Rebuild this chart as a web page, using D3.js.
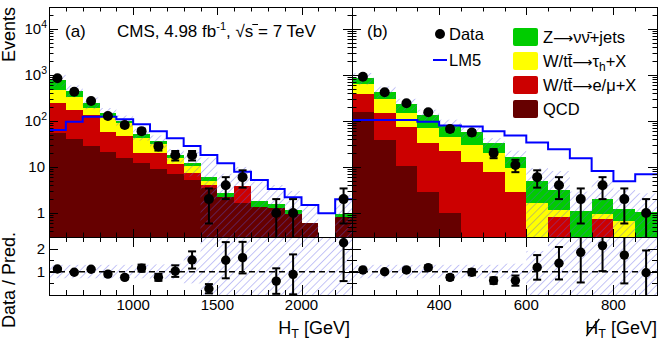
<!DOCTYPE html>
<html>
<head>
<meta charset="utf-8">
<script src="https://cdn.jsdelivr.net/npm/d3@7"></script>
<style>
  body { margin: 0; background: #fff; }
  text { font-family: "Liberation Sans", Arial, Helvetica, sans-serif; }
</style>
</head>
<body>
<svg id="chart" width="664" height="347"></svg>
<script>
// ---- data ----
// (a) HT, 100 GeV bins, low edges
const htLow = [500, 600, 700, 800, 900, 1000, 1100, 1200, 1300, 1400, 1500, 1600, 1700, 1800, 1900, 2000, 2100, 2200];
const htQCD = [56, 40.5, 29, 21.5, 15.4, 12, 8.9, 7.0, 5.2, 3.4, 2.19, 1.67, 1.37, 1.26, 0.95, 0.6, 0, 0.8];
const htLep = [186, 132.5, 106, 36.5, 31.6, 8.4, 10.9, 4.6, 2.1, 0.65, 0, 2.18, 0, 0, 0, 0, 0, 0];
const htTau = [229, 153, 53, 62, 42, 21.6, 11.7, 3.8, 3.2, 0.95, 0, 0, 0, 0, 0, 0, 0, 0];
const htZnn = [305, 129, 61, 27, 12, 10, 5.1, 2.8, 1.9, 1.15, 0.56, 0, 0.48, 0.30, 0.21, 0, 0, 0.15];
const htLM5 = [63.5, 96, 124, 124, 109, 84.5, 60, 42, 28.5, 18.2, 12, 7.9, 5.2, 3.3, 2.19, 1.49, 0.98, 1.98];
const htData = [844, 432, 271, 128, 82, 60, 28, 18, 18, 2, 4, 6, 0, 1, 1, 0, 0, 2];
const htDataErr = [29, 20.8, 16.5, 11.3, 9.1, 7.7, 5.3, 4.2, 4.2, 1.41, 2, 2.45, 0, 1, 1, 0, 0, 1.41];
const htRatio = [1.12, 0.98, 1.11, 0.90, 0.76, 1.16, 0.76, 1.03, 1.51, 0.27, 1.5, 1.61, null, 0.6, 0.89, null, null, 2.25];
const htRatioErr = [0.04, 0.05, 0.06, 0.08, 0.08, 0.15, 0.15, 0.25, 0.37, 0.2, 0.78, 0.68, null, 0.55, 0.86, null, null, 1.65];
const htBandLo = [0.72, 0.72, 0.72, 0.72, 0.72, 0.72, 0.7, 0.68, 0.5, 0, 0, 0, 0, 0, 0, 0, 0, 0];
const htBandHi = [1.3, 1.3, 1.3, 1.3, 1.3, 1.3, 1.32, 1.35, 1.7, 2.6, 2.6, 2.6, 2.6, 2.6, 2.6, 2.6, 2.6, 2.6];

// (b) missing HT, 50 GeV bins, low edges
const mhtLow = [200, 250, 300, 350, 400, 450, 500, 550, 600, 650, 700, 750, 800, 850];
const mhtQCD = [159, 38.5, 10.5, 2.9, 0.98, 0, 0, 0, 0, 0, 0, 0, 0, 0];
const mhtLep = [231, 112.5, 64.5, 30.7, 21.5, 13, 7.9, 2.9, 0, 0.83, 0, 0.73, 0, 0];
const mhtTau = [250, 144, 76, 35.4, 21.5, 17, 11.9, 6.4, 1.62, 0.33, 0, 0.2, 0.67, 0];
const mhtZnn = [210, 137, 82, 66, 38, 28.4, 12.8, 7.4, 3.38, 1.99, 1.12, 1.07, 0.55, 1.03];
const mhtLM5 = [105, 105, 105, 96, 80, 76, 60, 48, 34, 24.3, 15.4, 8.2, 4.9, 6.95];
const mhtData = [916, 419, 242, 154, 67, 56, 20, 11, 6, 4, 2, 4, 2, 1];
const mhtDataErr = [30.3, 20.5, 15.6, 12.4, 8.2, 7.5, 4.5, 3.3, 2.45, 2, 1.41, 2, 1.41, 1];
const mhtRatio = [1.08, 1.0, 1.08, 1.18, 0.76, 0.98, 0.62, 0.62, 1.19, 1.37, 1.84, 2.13, 1.72, 0.96];
const mhtRatioErr = [0.04, 0.05, 0.07, 0.09, 0.1, 0.13, 0.14, 0.22, 0.53, 0.7, 1.3, 1.1, 1.22, 0.96];
const mhtBandLo = [0.72, 0.72, 0.72, 0.72, 0.72, 0.72, 0.72, 0.68, 0, 0, 0, 0, 0, 0];
const mhtBandHi = [1.3, 1.3, 1.3, 1.3, 1.3, 1.3, 1.3, 1.35, 1.9, 2.6, 2.6, 2.6, 2.6, 2.6];

const htTicks = [1000, 1500, 2000];
const mhtTicks = [400, 600, 800];
const ratioTicks = [1, 2];

const stackKeys = ['qcd', 'lep', 'tau', 'znn'];
const stackColors = { qcd: '#660000', lep: '#cc0000', tau: '#ffff00', znn: '#00cc00' };

// ---- layout ----
const mainTop = 7, mainBot = 237, ratioBot = 295;
const hatchColor = '#5a5ae6';
const ARROW = '\u27F6';

const svg = d3.select('#chart');
const defs = svg.append('defs');

const pat = defs.append('pattern')
  .attr('id', 'hatch')
  .attr('patternUnits', 'userSpaceOnUse')
  .attr('width', 5.5).attr('height', 5.5)
  .attr('patternTransform', 'rotate(45)');
pat.append('line')
  .attr('x1', 0).attr('y1', 0).attr('x2', 0).attr('y2', 5.5)
  .attr('stroke', hatchColor).attr('stroke-width', 0.7);

const yMain = d3.scaleLog().domain([0.3, 3e4]).range([mainBot, mainTop]).clamp(true);
const yRatio = d3.scaleLinear().domain([0, 2.5]).range([ratioBot, mainBot]);

const panels = [
  { id: 'a', x: d3.scaleLinear().domain([500, 2300]).range([49, 352]), bw: 100,
    low: htLow, qcd: htQCD, lep: htLep, tau: htTau, znn: htZnn, lm5: htLM5,
    data: htData, err: htDataErr, ratio: htRatio, ratioErr: htRatioErr,
    bandLo: htBandLo, bandHi: htBandHi, ticks: htTicks, minorStep: 100, majorStep: 500 },
  { id: 'b', x: d3.scaleLinear().domain([200, 900]).range([352, 657]), bw: 50,
    low: mhtLow, qcd: mhtQCD, lep: mhtLep, tau: mhtTau, znn: mhtZnn, lm5: mhtLM5,
    data: mhtData, err: mhtDataErr, ratio: mhtRatio, ratioErr: mhtRatioErr,
    bandLo: mhtBandLo, bandHi: mhtBandHi, ticks: mhtTicks, minorStep: 50, majorStep: 200 }
];

const pos = v => Math.max(v, 1e-6);

function drawErrorBar(g, x, y0, y1, capTop, capBot) {
  g.append('line').attr('x1', x).attr('x2', x).attr('y1', y0).attr('y2', y1)
    .attr('stroke', '#000').attr('stroke-width', 2);
  if (capTop) g.append('line').attr('x1', x - 4).attr('x2', x + 4).attr('y1', y1).attr('y2', y1)
    .attr('stroke', '#000').attr('stroke-width', 2);
  if (capBot) g.append('line').attr('x1', x - 4).attr('x2', x + 4).attr('y1', y0).attr('y2', y0)
    .attr('stroke', '#000').attr('stroke-width', 2);
}

panels.forEach(p => {
  const [x0, x1] = p.x.range();

  defs.append('clipPath').attr('id', 'clipM' + p.id).append('rect')
    .attr('x', x0).attr('y', mainTop).attr('width', x1 - x0).attr('height', mainBot - mainTop);
  defs.append('clipPath').attr('id', 'clipR' + p.id).append('rect')
    .attr('x', x0).attr('y', mainBot).attr('width', x1 - x0).attr('height', ratioBot - mainBot);

  const rows = p.low.map((lo, i) => ({
    lo, i, qcd: p.qcd[i], lep: p.lep[i], tau: p.tau[i], znn: p.znn[i],
    total: p.qcd[i] + p.lep[i] + p.tau[i] + p.znn[i]
  }));
  const bx = d => p.x(d.lo);
  const bwid = d => p.x(d.lo + p.bw) - p.x(d.lo);

  // ---- main pad ----
  const gm = svg.append('g').attr('clip-path', `url(#clipM${p.id})`);
  const series = d3.stack().keys(stackKeys)(rows);
  series.forEach(s => {
    gm.append('g').selectAll('rect').data(s).join('rect')
      .attr('x', d => bx(d.data)).attr('width', d => bwid(d.data))
      .attr('y', d => yMain(pos(d[1])))
      .attr('height', d => yMain(pos(d[0])) - yMain(pos(d[1])))
      .attr('fill', stackColors[s.key])
      .attr('shape-rendering', 'crispEdges');
  });

  // uncertainty band on prediction
  gm.append('g').selectAll('rect').data(rows.filter(d => d.total > 0)).join('rect')
    .attr('x', bx).attr('width', bwid)
    .attr('y', d => yMain(pos(d.total * p.bandHi[d.i])))
    .attr('height', d => yMain(pos(d.total * p.bandLo[d.i])) - yMain(pos(d.total * p.bandHi[d.i])))
    .attr('fill', 'url(#hatch)');

  // LM5 step line
  const lmPts = p.low.map((lo, i) => [p.x(lo), yMain(p.lm5[i])]);
  lmPts.push([p.x(p.low[p.low.length - 1] + p.bw), yMain(p.lm5[p.lm5.length - 1])]);
  gm.append('path')
    .attr('d', d3.line().curve(d3.curveStepAfter)(lmPts))
    .attr('fill', 'none').attr('stroke', '#0000ff').attr('stroke-width', 2);

  // data
  p.low.forEach((lo, i) => {
    const n = p.data[i];
    if (!n) return;
    const cx = p.x(lo + p.bw / 2);
    const lo2 = n - p.err[i], hi2 = n + p.err[i];
    drawErrorBar(gm, cx, yMain(pos(lo2)), yMain(hi2), true, lo2 > 0.3);
    gm.append('circle').attr('cx', cx).attr('cy', yMain(n)).attr('r', 5).attr('fill', '#000');
  });

  // ---- ratio pad ----
  const gr = svg.append('g').attr('clip-path', `url(#clipR${p.id})`);
  gr.append('g').selectAll('rect').data(p.low).join('rect')
    .attr('x', lo => p.x(lo)).attr('width', lo => p.x(lo + p.bw) - p.x(lo))
    .attr('y', (lo, i) => yRatio(p.bandHi[i]))
    .attr('height', (lo, i) => yRatio(p.bandLo[i]) - yRatio(p.bandHi[i]))
    .attr('fill', 'url(#hatch)');
  gr.append('line').attr('x1', x0).attr('x2', x1).attr('y1', yRatio(1)).attr('y2', yRatio(1))
    .attr('stroke', '#000').attr('stroke-width', 1.5).attr('stroke-dasharray', '6,4');
  p.low.forEach((lo, i) => {
    const r = p.ratio[i];
    if (r == null) return;
    const cx = p.x(lo + p.bw / 2);
    const e = p.ratioErr[i];
    drawErrorBar(gr, cx, yRatio(Math.max(r - e, -0.1)), yRatio(r + e), r + e < 2.5, r - e > 0);
    gr.append('circle').attr('cx', cx).attr('cy', yRatio(r)).attr('r', 4.7).attr('fill', '#000');
  });

  // ---- ticks ----
  const tk = svg.append('g').attr('stroke', '#000').attr('stroke-width', 1);
  const xMinor = d3.range(p.x.domain()[0], p.x.domain()[1] + 1, p.minorStep);
  xMinor.forEach(v => {
    const xx = Math.round(p.x(v)) + 0.5;
    const major = v % p.majorStep === 0;
    const lm = major ? 8 : 4.5, lr = major ? 10 : 5;
    tk.append('line').attr('x1', xx).attr('x2', xx).attr('y1', mainBot).attr('y2', mainBot - lm);
    tk.append('line').attr('x1', xx).attr('x2', xx).attr('y1', mainTop).attr('y2', mainTop + lm);
    tk.append('line').attr('x1', xx).attr('x2', xx).attr('y1', ratioBot).attr('y2', ratioBot - lr);
    tk.append('line').attr('x1', xx).attr('x2', xx).attr('y1', mainBot).attr('y2', mainBot + lr);
  });
  const logTicks = [];
  for (let e = -1; e <= 4; e++) for (let m = 1; m <= 9; m++) {
    const v = m * Math.pow(10, e);
    if (v >= 0.3 && v <= 3e4) logTicks.push({ v, major: m === 1 });
  }
  logTicks.forEach(t => {
    const yy = Math.round(yMain(t.v)) + 0.5;
    const l = t.major ? 9 : 4.5;
    tk.append('line').attr('x1', x0).attr('x2', x0 + l).attr('y1', yy).attr('y2', yy);
    tk.append('line').attr('x1', x1).attr('x2', x1 - l).attr('y1', yy).attr('y2', yy);
  });
  [0.5, 1, 1.5, 2].forEach(v => {
    const yy = Math.round(yRatio(v)) + 0.5;
    const l = ratioTicks.includes(v) ? 9 : 5;
    tk.append('line').attr('x1', x0).attr('x2', x0 + l).attr('y1', yy).attr('y2', yy);
    tk.append('line').attr('x1', x1).attr('x2', x1 - l).attr('y1', yy).attr('y2', yy);
  });

  // frames
  svg.append('rect').attr('x', x0 + 0.5).attr('y', mainTop + 0.5)
    .attr('width', x1 - x0).attr('height', mainBot - mainTop)
    .attr('fill', 'none').attr('stroke', '#000');
  svg.append('rect').attr('x', x0 + 0.5).attr('y', mainBot + 0.5)
    .attr('width', x1 - x0).attr('height', ratioBot - mainBot)
    .attr('fill', 'none').attr('stroke', '#000');

  // x tick labels
  svg.append('g').selectAll('text').data(p.ticks).join('text')
    .attr('x', d => p.x(d)).attr('y', 310)
    .attr('text-anchor', 'middle').attr('font-size', 15)
    .text(d => d);
});

// y tick labels (main, left)
const yLab = svg.append('g').attr('font-size', 15).attr('text-anchor', 'end');
[[1, null], [10, null], [100, '2'], [1000, '3'], [10000, '4']].forEach(([v, ex]) => {
  const t = yLab.append('text').attr('x', ex ? 47 : 45).attr('y', yMain(v) + 5.5);
  if (ex) {
    t.append('tspan').text('10');
    t.append('tspan').attr('font-size', 10.5).attr('dy', -6).text(ex);
  } else t.text(v);
});
ratioTicks.forEach(v => {
  yLab.append('text').attr('x', 45).attr('y', yRatio(v) + 5.5).text(v);
});

// axis titles
svg.append('text').attr('transform', 'translate(15,7) rotate(-90)')
  .attr('text-anchor', 'end').attr('font-size', 18).text('Events');
svg.append('text').attr('transform', 'translate(15,232) rotate(-90)')
  .attr('text-anchor', 'end').attr('font-size', 18).text('Data / Pred.');

const htTitle = svg.append('text').attr('x', 350).attr('y', 334)
  .attr('text-anchor', 'end').attr('font-size', 18);
htTitle.append('tspan').text('H');
htTitle.append('tspan').attr('font-size', 12.5).attr('dy', 4).text('T');
htTitle.append('tspan').attr('dy', -4).text(' [GeV]');

const mhtTitle = svg.append('text').attr('x', 657).attr('y', 334)
  .attr('text-anchor', 'end').attr('font-size', 18);
mhtTitle.append('tspan').text('H');
mhtTitle.append('tspan').attr('font-size', 12.5).attr('dy', 4).text('T');
mhtTitle.append('tspan').attr('dy', -4).text(' [GeV]');
const hExt = mhtTitle.node().getExtentOfChar(0);
svg.append('line')
  .attr('x1', hExt.x + 1).attr('y1', 336)
  .attr('x2', hExt.x + hExt.width + 1).attr('y2', 319)
  .attr('stroke', '#000').attr('stroke-width', 1.3);

// labels inside panels
svg.append('text').attr('x', 65).attr('y', 37).attr('font-size', 17).text('(a)');
svg.append('text').attr('x', 367).attr('y', 37).attr('font-size', 17).text('(b)');

const cms = svg.append('text').attr('x', 117).attr('y', 37).attr('font-size', 17);
cms.append('tspan').text('CMS, 4.98 fb');
cms.append('tspan').attr('font-size', 11).attr('dy', -7).text('-1');
cms.append('tspan').attr('dy', 7).text(',  \u221As = 7 TeV');
const cn = cms.node();
const sIdx = cn.textContent.indexOf('\u221A') + 1;
const sExt = cn.getExtentOfChar(sIdx);
const rExt = cn.getExtentOfChar(sIdx - 1);
svg.append('line')
  .attr('x1', rExt.x + rExt.width - 1).attr('x2', sExt.x + sExt.width)
  .attr('y1', sExt.y + 2.5).attr('y2', sExt.y + 2.5)
  .attr('stroke', '#000').attr('stroke-width', 1);

// ---- legend ----
const leg = svg.append('g').attr('font-size', 16.5);
leg.append('circle').attr('cx', 440).attr('cy', 34).attr('r', 5).attr('fill', '#000');
leg.append('text').attr('x', 449).attr('y', 40).text('Data');
leg.append('line').attr('x1', 433).attr('x2', 447).attr('y1', 60).attr('y2', 60)
  .attr('stroke', '#0000ff').attr('stroke-width', 2);
leg.append('text').attr('x', 449).attr('y', 66).text('LM5');

const legEntries = [
  { key: 'znn', parts: [['Z'], [ARROW, 'arrow'], ['\u03BD\u03BD\u0304+jets']] },
  { key: 'tau', parts: [['W/tt\u0304'], [ARROW, 'arrow'], ['\u03C4'], ['h', 'sub'], ['+X', 'back']] },
  { key: 'lep', parts: [['W/tt\u0304'], [ARROW, 'arrow'], ['e/\u03BC+X']] },
  { key: 'qcd', parts: [['QCD']] }
];
legEntries.forEach((e, i) => {
  const top = 28 + i * 24;
  leg.append('rect').attr('x', 513).attr('y', top).attr('width', 25).attr('height', 18)
    .attr('rx', 2).attr('fill', stackColors[e.key]);
  const t = leg.append('text').attr('x', 543).attr('y', top + 15);
  e.parts.forEach(([s, mode]) => {
    const ts = t.append('tspan').text(s);
    if (mode === 'sub') ts.attr('font-size', 12).attr('dy', 4);
    if (mode === 'back') ts.attr('dy', -4);
    if (mode === 'arrow') ts.style('font-family', '"DejaVu Sans", sans-serif').attr('font-size', 14);
  });
});
</script>
</body>
</html>
